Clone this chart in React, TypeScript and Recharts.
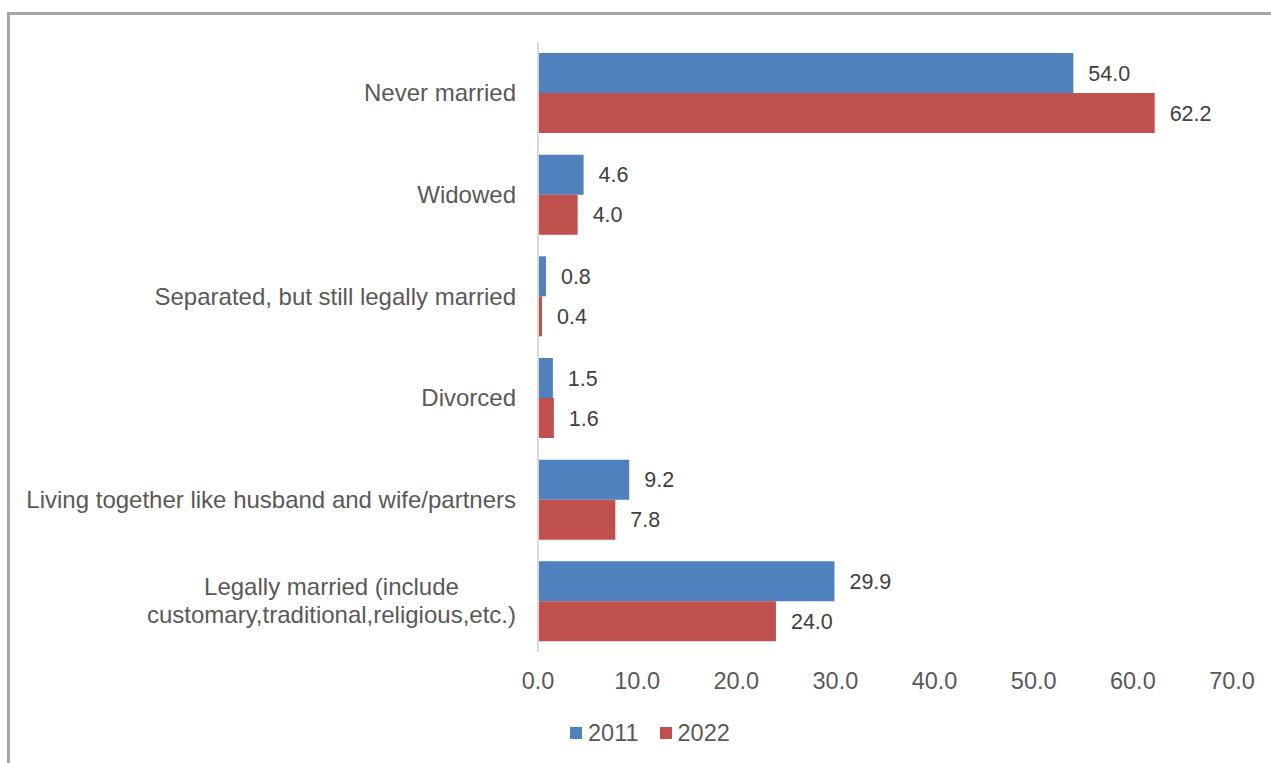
import { BarChart, Bar, XAxis, YAxis, LabelList } from 'recharts'

const categories = [
  'Never married',
  'Widowed',
  'Separated, but still legally married',
  'Divorced',
  'Living together like husband and wife/partners',
  'Legally married (include\ncustomary,traditional,religious,etc.)',
]
const values2011 = [54.0, 4.6, 0.8, 1.5, 9.2, 29.9]
const values2022 = [62.2, 4.0, 0.4, 1.6, 7.8, 24.0]
const xTicks = [0, 10, 20, 30, 40, 50, 60, 70]
const seriesNames = ['2011', '2022']

const FONT = '"Liberation Sans", Arial, sans-serif'
const BLUE = '#4f81bd'
const RED = '#c0504d'
const CAT_SIZE = 24

const chartData = categories.map((category, i) => ({
  category,
  y2011: values2011[i],
  y2022: values2022[i],
}))

// measure text so wrapped lines can be centred inside a right-aligned block
function textWidth(s: string, size: number) {
  const ctx = document.createElement('canvas').getContext('2d')
  if (!ctx) return s.length * size * 0.5
  ctx.font = `${size}px ${FONT}`
  return ctx.measureText(s).width
}

function CategoryTick(props: any) {
  const { x, y, payload } = props
  const lines = String(payload.value).split('\n')
  if (lines.length === 1) {
    return (
      <text x={x} y={y} dy="0.35em" textAnchor="end" fill="#595959" fontSize={CAT_SIZE} fontFamily={FONT}>
        {lines[0]}
      </text>
    )
  }
  const widest = Math.max(...lines.map((l) => textWidth(l, CAT_SIZE)))
  const cx = x - widest / 2
  const lh = 28
  const start = -((lines.length - 1) * lh) / 2
  return (
    <text x={cx} y={y} textAnchor="middle" fill="#595959" fontSize={CAT_SIZE} fontFamily={FONT}>
      {lines.map((l, i) => (
        <tspan key={i} x={cx} dy={i === 0 ? start + 8 : lh}>
          {l}
        </tspan>
      ))}
    </text>
  )
}

function ChartLegend() {
  const colors = [BLUE, RED]
  return (
    <div
      style={{
        position: 'absolute',
        top: 718,
        left: 570,
        display: 'flex',
        gap: 21,
        fontFamily: FONT,
        fontSize: 23.5,
        color: '#595959',
        lineHeight: '30px',
      }}
    >
      {seriesNames.map((name, i) => (
        <div key={name} style={{ display: 'flex', alignItems: 'center' }}>
          <span style={{ width: 12, height: 12, background: colors[i], display: 'inline-block', marginRight: 6 }} />
          <span>{name}</span>
        </div>
      ))}
    </div>
  )
}

export default function App() {
  return (
    <div style={{ position: 'absolute', left: 0, top: 0, width: 1271, height: 763, overflow: 'hidden', background: '#fff' }}>
      <div
        style={{
          position: 'absolute',
          left: 7,
          top: 12,
          width: 1400,
          height: 900,
          borderTop: '3px solid #a6a6a6',
          borderLeft: '3px solid #a6a6a6',
        }}
      />
      <div style={{ position: 'absolute', left: 0, top: 0 }}>
        <BarChart
          width={1271}
          height={763}
          data={chartData}
          layout="vertical"
          margin={{ top: 42, right: 39, bottom: 81, left: 18 }}
          barGap={0}
          barSize={40}
        >
          <XAxis
            type="number"
            domain={[0, 70]}
            ticks={xTicks}
            tickFormatter={(v: number) => v.toFixed(1)}
            axisLine={false}
            tickLine={false}
            tickSize={0}
            tickMargin={20}
            height={30}
            tick={{ fill: '#595959', fontSize: 23.5, fontFamily: FONT }}
          />
          <YAxis
            type="category"
            dataKey="category"
            width={520}
            axisLine={{ stroke: '#d9d9d9', strokeWidth: 2 }}
            tickLine={false}
            tickSize={0}
            tickMargin={22}
            interval={0}
            tick={<CategoryTick />}
          />
          <Bar dataKey="y2011" name={seriesNames[0]} fill={BLUE} isAnimationActive={false}>
            <LabelList
              dataKey="y2011"
              position="right"
              offset={15}
              formatter={(v: any) => Number(v).toFixed(1)}
              style={{ fill: '#404040', fontSize: 21.5, fontFamily: FONT }}
            />
          </Bar>
          <Bar dataKey="y2022" name={seriesNames[1]} fill={RED} isAnimationActive={false}>
            <LabelList
              dataKey="y2022"
              position="right"
              offset={15}
              formatter={(v: any) => Number(v).toFixed(1)}
              style={{ fill: '#404040', fontSize: 21.5, fontFamily: FONT }}
            />
          </Bar>
        </BarChart>
      </div>
      <ChartLegend />
    </div>
  )
}
